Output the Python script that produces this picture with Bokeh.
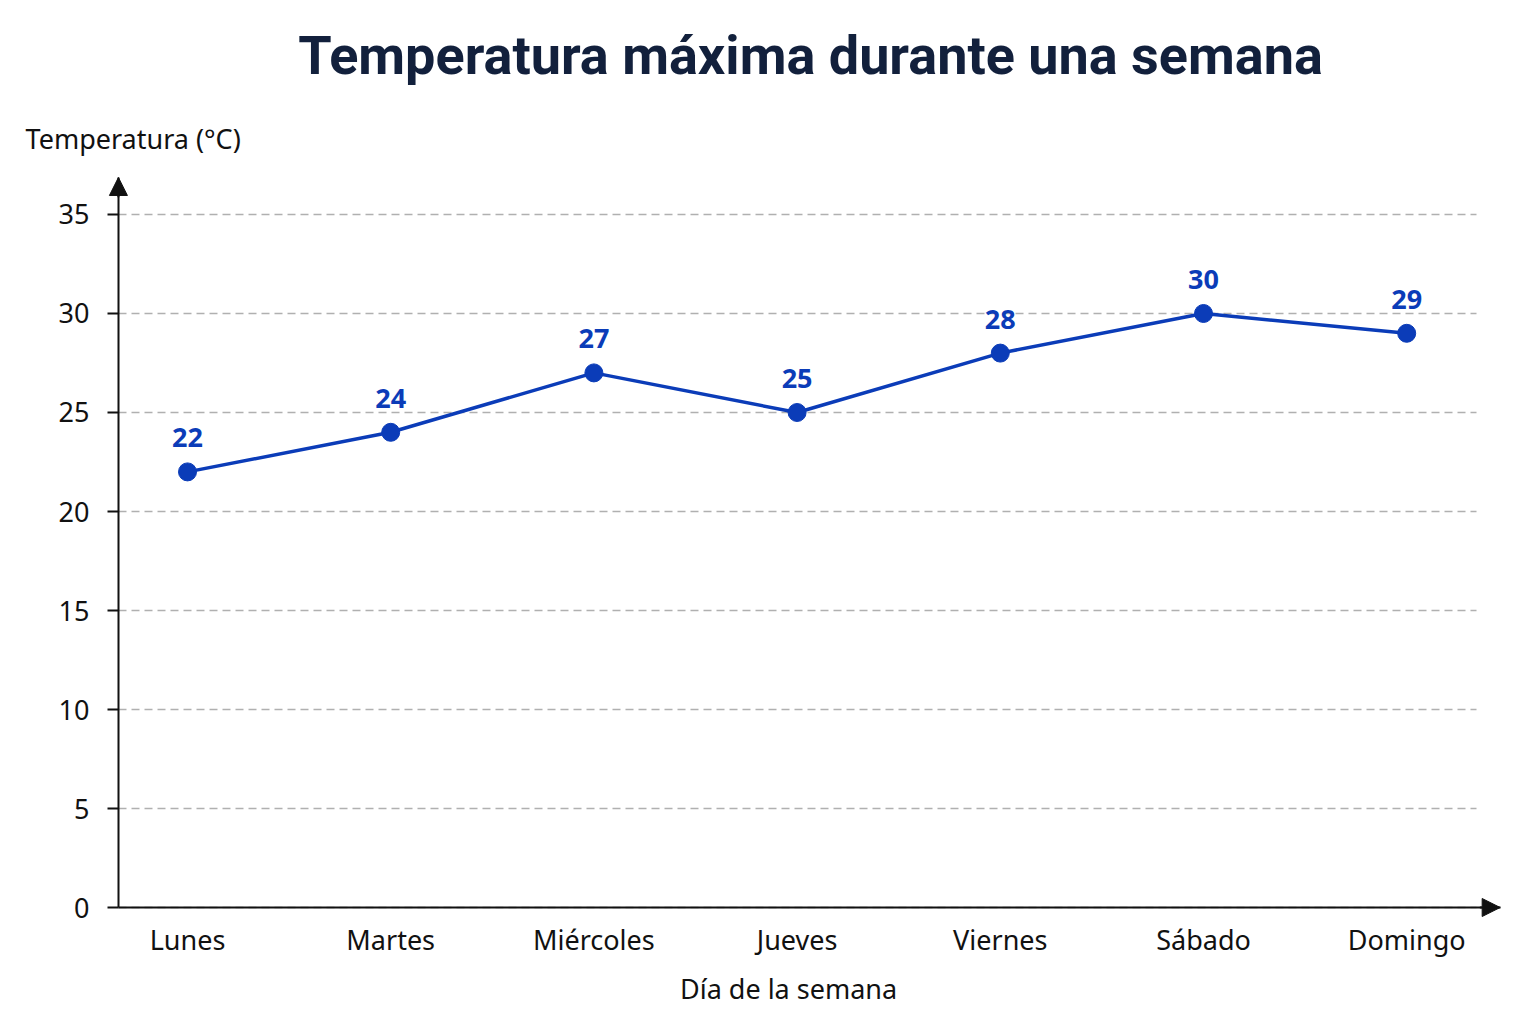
from bokeh.plotting import figure
from bokeh.models import Arrow, NormalHead, FixedTicker, Range1d, Label
from bokeh.core.properties import value
from bokeh.embed import file_html
from bokeh.resources import INLINE

# Daily maximum temperatures over one week
dias = ["Lunes", "Martes", "Miércoles", "Jueves", "Viernes", "Sábado", "Domingo"]
temperaturas = [22, 24, 27, 25, 28, 30, 29]
y_ticks = [0, 5, 10, 15, 20, 25, 30, 35]

titulo = "Temperatura máxima durante una semana"
etiqueta_y = "Temperatura (°C)"
etiqueta_x = "Día de la semana"

FONT = "Noto Sans"
AZUL = "#0b3cb8"
TINTA = "#111111"

x_idx = list(range(len(dias)))

# the plot area spans the whole canvas; axes are pinned inside it
x_lo, x_hi = -0.9203, 6.6388
y_lo, y_hi = -5.909, 45.808
x_axis_pos, x_tip = -0.34, 6.46      # where the y axis sits / x arrow tip
y_axis_pos, y_tip = 0, 36.87         # where the x axis sits / y arrow tip
grid_end = 6.343

p = figure(
    width=1536, height=1024,
    output_backend="svg", toolbar_location=None,
    x_range=Range1d(x_lo, x_hi), y_range=Range1d(y_lo, y_hi),
    min_border_left=0, min_border_right=0,
    min_border_top=0, min_border_bottom=0,
    background_fill_color="white", border_fill_color="white",
    title_location=None,
)
p.outline_line_color = None

# grid: dashed horizontal lines only, between the axis and the last day
p.xgrid.visible = False
p.ygrid.grid_line_color = "#b0b0b0"
p.ygrid.grid_line_dash = "8 5"
p.ygrid.grid_line_width = 1.5
p.ygrid.cross_bounds = (x_axis_pos, grid_end)

# y axis
p.yaxis.fixed_location = x_axis_pos
p.yaxis.bounds = (y_axis_pos, y_tip)
p.yaxis.ticker = FixedTicker(ticks=y_ticks)
p.yaxis.axis_line_color = TINTA
p.yaxis.axis_line_width = 2
p.yaxis.major_tick_in = 0
p.yaxis.major_tick_out = 11
p.yaxis.major_tick_line_width = 2
p.yaxis.major_tick_line_color = TINTA
p.yaxis.minor_tick_line_color = None
p.yaxis.major_label_text_font = FONT
p.yaxis.major_label_text_font_size = "27px"
p.yaxis.major_label_text_color = TINTA
p.yaxis.major_label_standoff = 18

# x axis with day names
p.xaxis.fixed_location = y_axis_pos
p.xaxis.bounds = (x_axis_pos, x_tip)
p.xaxis.ticker = FixedTicker(ticks=x_idx)
p.xaxis.major_label_overrides = {i: d for i, d in zip(x_idx, dias)}
p.xaxis.axis_line_color = TINTA
p.xaxis.axis_line_width = 2
p.xaxis.major_tick_in = 0
p.xaxis.major_tick_out = 0
p.xaxis.minor_tick_line_color = None
p.xaxis.major_label_text_font = FONT
p.xaxis.major_label_text_font_size = "27px"
p.xaxis.major_label_text_color = TINTA
p.xaxis.major_label_standoff = 13

# arrow heads at the ends of both axes
p.add_layout(Arrow(
    end=NormalHead(size=18, fill_color=TINTA, line_color=TINTA),
    x_start=x_axis_pos, y_start=y_tip - 1, x_end=x_axis_pos, y_end=y_tip,
    line_color=TINTA, line_width=2,
))
p.add_layout(Arrow(
    end=NormalHead(size=18, fill_color=TINTA, line_color=TINTA),
    x_start=x_tip - 0.1, y_start=y_axis_pos, x_end=x_tip, y_end=y_axis_pos,
    line_color=TINTA, line_width=2,
))

# series
p.line(x_idx, temperaturas, line_color=AZUL, line_width=3.5)
p.scatter(x_idx, temperaturas, size=18, fill_color=AZUL, line_color=AZUL)
p.text(
    x=x_idx, y=temperaturas, text=[str(t) for t in temperaturas],
    text_align="center", text_baseline="middle", y_offset=-34,
    text_font=value(FONT), text_font_style="bold",
    text_font_size="27px", text_color=AZUL,
)

# title and axis captions
p.add_layout(Label(
    x=3.066, y=43.03, text=titulo,
    text_align="center", text_baseline="middle",
    text_font="Roboto", text_font_style="bold", text_font_size="54px",
    text_color="#12203c",
))
p.add_layout(Label(
    x=-0.797, y=38.84, text=etiqueta_y,
    text_align="left", text_baseline="middle",
    text_font=FONT, text_font_size="27px", text_color=TINTA,
))
p.add_layout(Label(
    x=2.958, y=-4.09, text=etiqueta_x,
    text_align="center", text_baseline="middle",
    text_font=FONT, text_font_size="27px", text_color=TINTA,
))

open("out.html", "w").write(file_html(p, INLINE))
